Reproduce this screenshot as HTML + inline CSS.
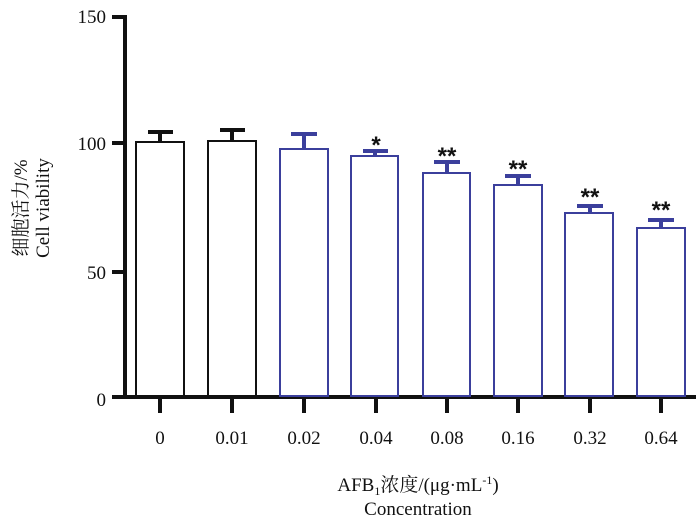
<!DOCTYPE html><html><head><style>body{margin:0;background:#fff}</style></head><body>
<svg width="700" height="526" xmlns="http://www.w3.org/2000/svg" font-family="Liberation Serif, Noto Serif CJK SC, serif">
<g stroke="#111" stroke-width="4" fill="none">
<line x1="125" y1="15" x2="125" y2="399"/>
<line x1="112" y1="397" x2="696" y2="397"/>
<line x1="112" y1="17" x2="125" y2="17"/>
<line x1="112" y1="143" x2="125" y2="143"/>
<line x1="112" y1="272" x2="125" y2="272"/>
<line x1="160" y1="397" x2="160" y2="413"/><line x1="232" y1="397" x2="232" y2="413"/><line x1="304" y1="397" x2="304" y2="413"/><line x1="376" y1="397" x2="376" y2="413"/><line x1="447" y1="397" x2="447" y2="413"/><line x1="518" y1="397" x2="518" y2="413"/><line x1="590" y1="397" x2="590" y2="413"/><line x1="661" y1="397" x2="661" y2="413"/>
</g>
<g stroke-width="2" fill="#fff">
<g stroke="#111"><rect x="136" y="142" width="48" height="254"/><rect x="208" y="141" width="48" height="255"/></g>
<g stroke="#3b3f9c"><rect x="280" y="149" width="48" height="247"/><rect x="351" y="156" width="47" height="240"/><rect x="423" y="173" width="47" height="223"/><rect x="494" y="185" width="48" height="211"/><rect x="565" y="213" width="48" height="183"/><rect x="637" y="228" width="48" height="168"/></g>
</g>
<g stroke-width="4" fill="none">
<g stroke="#111"><path d="M160 142V132M148 132H173"/><path d="M232 141V130M220 130H245"/></g>
<g stroke="#3b3f9c"><path d="M304 149V134M291 134H317"/><path d="M375 156V151M363 151H388"/><path d="M447 173V162M434 162H460"/><path d="M518 185V176M505 176H531"/><path d="M590 213V206M577 206H603"/><path d="M661 228V220M648 220H674"/></g>
</g>
<g font-family="Liberation Sans, sans-serif" font-weight="bold" font-size="24" text-anchor="middle" fill="#111">
<text x="376" y="153">*</text><text x="447" y="164">**</text><text x="518" y="177">**</text><text x="590" y="205">**</text><text x="661" y="218">**</text>
</g>
<g font-size="19" fill="#111" text-anchor="end">
<text x="106" y="23">150</text><text x="106" y="150">100</text><text x="106" y="279">50</text><text x="106" y="406">0</text>
</g>
<g font-size="19" fill="#111" text-anchor="middle">
<text x="160" y="444">0</text><text x="232" y="444">0.01</text><text x="304" y="444">0.02</text><text x="376" y="444">0.04</text><text x="447" y="444">0.08</text><text x="518" y="444">0.16</text><text x="590" y="444">0.32</text><text x="661" y="444">0.64</text>
<text x="418" y="491">AFB<tspan font-size="12" dy="4">1</tspan><tspan dy="-4">浓度/(μg·mL</tspan><tspan font-size="12" dy="-7">-1</tspan><tspan dy="7">)</tspan></text>
<text x="418" y="515">Concentration</text>
</g>
<g font-size="19" fill="#111" text-anchor="middle">
<text transform="translate(27,208) rotate(-90)">细胞活力/%</text>
<text transform="translate(49,208) rotate(-90)">Cell viability</text>
</g>
</svg></body></html>
